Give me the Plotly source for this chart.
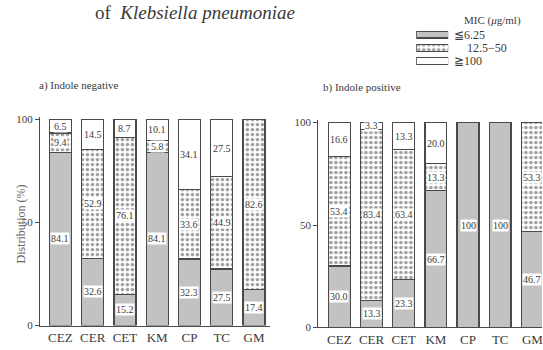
import plotly.graph_objects as go

# Antimicrobial agents on the category axis
drugs = ["CEZ", "CER", "CET", "KM", "CP", "TC", "GM"]

# Distribution (%) of MIC classes, a) Indole negative
neg_low = [84.1, 32.6, 15.2, 84.1, 32.3, 27.5, 17.4]
neg_mid = [9.4, 52.9, 76.1, 5.8, 33.6, 44.9, 82.6]
neg_high = [6.5, 14.5, 8.7, 10.1, 34.1, 27.5, 0]

# Distribution (%) of MIC classes, b) Indole positive
pos_low = [30.0, 13.3, 23.3, 66.7, 100, 100, 46.7]
pos_mid = [53.4, 83.4, 63.4, 13.3, 0, 0, 53.3]
pos_high = [16.6, 3.3, 13.3, 20.0, 0, 0, 0]

class_names = ["≦6.25", "12.5−50", "≧100"]
y_ticks = [0, 50, 100]

W, H = 543, 350
SERIF = "Liberation Serif, Times New Roman, serif"
INK = "#3a3a3a"
GRAY = "#c2c2c2"
EDGE = "#4a4a4a"

styles = [
    dict(color=GRAY, pattern=dict(shape="")),
    dict(color="white", pattern=dict(shape=".", fgcolor="#3c3c3c", bgcolor="white",
                                      size=5, solidity=0.4, fillmode="overlay")),
    dict(color="white", pattern=dict(shape="")),
]


def px_x(p):
    return p / W


def px_y(p):
    return 1 - p / H


fig = go.Figure()

panels = [
    dict(series=[neg_low, neg_mid, neg_high], xa="x", ya="y"),
    dict(series=[pos_low, pos_mid, pos_high], xa="x2", ya="y2"),
]

annotations = []
for panel in panels:
    for k, vals in enumerate(panel["series"]):
        st = styles[k]
        fig.add_trace(go.Bar(
            x=drugs, y=vals, name=class_names[k], showlegend=False,
            xaxis=panel["xa"], yaxis=panel["ya"], width=0.68,
            marker=dict(color=st["color"], pattern=st["pattern"],
                        line=dict(color=EDGE, width=1.3)),
            hoverinfo="skip",
        ))
    # value labels in white boxes at the middle of each segment
    for i, d in enumerate(drugs):
        base = 0.0
        for vals in panel["series"]:
            v = vals[i]
            if v > 0:
                txt = "100" if v == 100 else f"{v:.1f}"
                annotations.append(dict(
                    x=d, y=base + v / 2, xref=panel["xa"], yref=panel["ya"],
                    text=txt, showarrow=False, bgcolor="white", borderpad=0,
                    font=dict(family=SERIF, size=10, color=INK),
                ))
            base += v

# legend swatches drawn as horizontal bars on their own small axes
for k in range(3):
    st = styles[k]
    fig.add_trace(go.Bar(
        x=[1], y=[2 - k], orientation="h", width=0.52, showlegend=False,
        xaxis="x3", yaxis="y3", hoverinfo="skip",
        marker=dict(color=st["color"], pattern=st["pattern"],
                    line=dict(color=EDGE, width=1.1)),
    ))

axis_font = dict(family=SERIF, size=13, color=INK)
tick_font = dict(family=SERIF, size=11, color=INK)

yax = dict(range=[0, 101.2], tickvals=y_ticks, ticks="outside", ticklen=4,
           tickcolor=EDGE, showline=True, linecolor=EDGE, linewidth=1.2,
           showgrid=False, zeroline=False, tickfont=tick_font)
xax = dict(showline=True, linecolor=EDGE, linewidth=1.2, ticks="",
           showgrid=False, tickfont=axis_font, type="category")

# panel a: y axis at x=40px, 0 at 331px, 100 at 119px
a_top = 331 - 101.2 * 2.12
# panel b: y axis at x=319px, 0 at 333px, 100 at 122px
b_top = 333 - 101.2 * 2.11

fig.update_layout(
    width=W, height=H, margin=dict(l=0, r=0, t=0, b=0),
    paper_bgcolor="white", plot_bgcolor="white", barmode="stack",
    xaxis=dict(xax, domain=[px_x(40), px_x(270)], range=[-0.634, 6.48], anchor="y"),
    yaxis=dict(yax, domain=[px_y(331), px_y(a_top)], anchor="x"),
    xaxis2=dict(xax, domain=[px_x(319), 1.0], range=[-0.652, 6.30], anchor="y2"),
    yaxis2=dict(yax, domain=[px_y(333), px_y(b_top)], anchor="x2"),
    xaxis3=dict(domain=[px_x(417), px_x(449)], range=[0, 1], visible=False, anchor="y3"),
    yaxis3=dict(domain=[px_y(66), px_y(24)], range=[-0.55, 2.55], visible=False, anchor="x3"),
    bargap=0.32,
)

text_items = [
    dict(x=px_x(195), y=px_y(9), text="of  <i>Klebsiella pneumoniae</i>",
         size=19, xanchor="center"),
    dict(x=px_x(463), y=px_y(17), text="MIC (<i>μ</i>g/ml)", size=11, xanchor="left"),
    dict(x=px_x(453), y=px_y(31.5), text=class_names[0], size=12, xanchor="left"),
    dict(x=px_x(466), y=px_y(45.5), text=class_names[1], size=12, xanchor="left"),
    dict(x=px_x(453), y=px_y(59), text=class_names[2], size=12, xanchor="left"),
    dict(x=px_x(37), y=px_y(84), text="a) Indole negative", size=11, xanchor="left"),
    dict(x=px_x(322), y=px_y(86), text="b) Indole positive", size=11, xanchor="left"),
]
for t in text_items:
    annotations.append(dict(
        x=t["x"], y=t["y"], xref="paper", yref="paper", text=t["text"],
        showarrow=False, xanchor=t["xanchor"], yanchor="middle",
        font=dict(family=SERIF, size=t["size"], color=INK),
    ))

annotations.append(dict(
    x=px_x(12), y=px_y(226), xref="paper", yref="paper", text="Distribution (%)",
    textangle=-90, showarrow=False, font=dict(family=SERIF, size=12, color="#666"),
))

fig.update_layout(annotations=annotations)
fig.write_html("out.html")
